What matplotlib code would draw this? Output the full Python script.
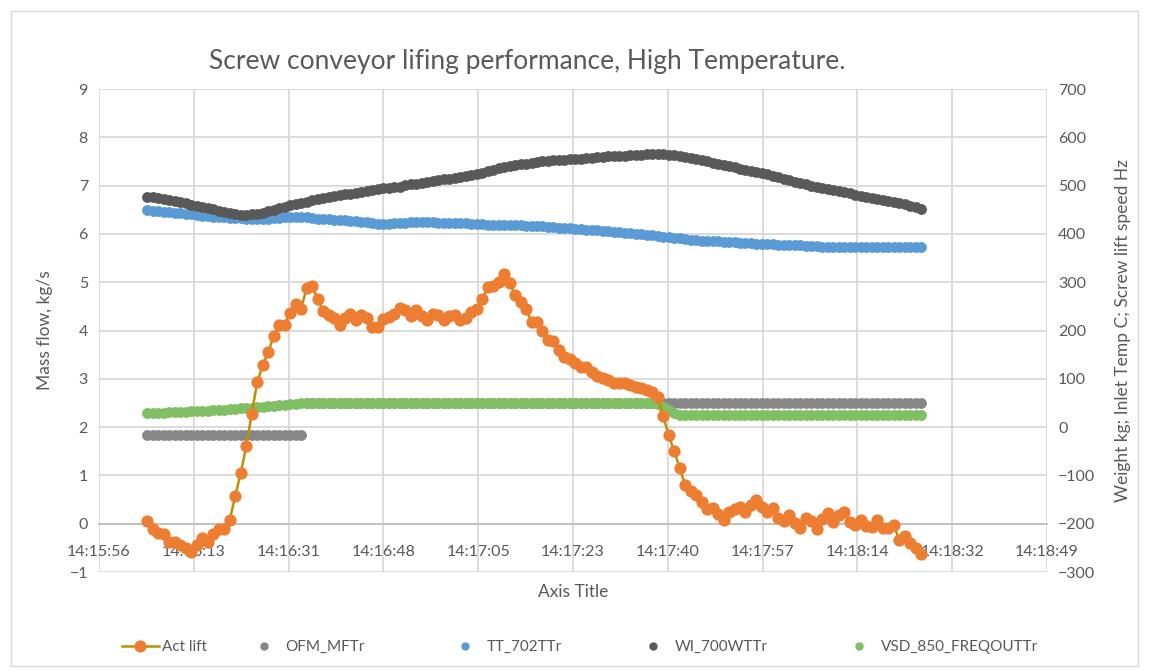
import numpy as np
import matplotlib
matplotlib.use("Agg")
import matplotlib.pyplot as plt
from matplotlib.lines import Line2D
from matplotlib.patches import Rectangle

plt.rcParams['font.family'] = ['Lato', 'DejaVu Sans']

# time axis: one sample per second starting 14:16:05 (seconds since midnight)
t_start = 14 * 3600 + 16 * 60 + 5
n_samples = 142

# Act lift, kg/s (left axis)
act_lift = [
    0.05, -0.12, -0.2, -0.22, -0.38, -0.38, -0.45, -0.5, -0.58, -0.45,
    -0.3, -0.38, -0.22, -0.12, -0.12, 0.08, 0.58, 1.05, 1.6, 2.28,
    2.93, 3.28, 3.55, 3.88, 4.12, 4.12, 4.37, 4.55, 4.45, 4.88,
    4.93, 4.65, 4.4, 4.33, 4.26, 4.12, 4.26, 4.35, 4.22, 4.33,
    4.26, 4.08, 4.08, 4.24, 4.28, 4.35, 4.47, 4.42, 4.3, 4.43,
    4.29, 4.22, 4.35, 4.33, 4.22, 4.3, 4.33, 4.22, 4.26, 4.39,
    4.45, 4.65, 4.9, 4.93, 5.0, 5.18, 4.98, 4.74, 4.6, 4.45,
    4.18, 4.18, 3.98, 3.81, 3.78, 3.6, 3.45, 3.42, 3.33, 3.25,
    3.24, 3.15, 3.06, 3.02, 2.97, 2.92, 2.92, 2.91, 2.88, 2.84,
    2.8, 2.77, 2.72, 2.62, 2.22, 1.84, 1.5, 1.16, 0.8, 0.68,
    0.6, 0.45, 0.3, 0.33, 0.2, 0.08, 0.25, 0.3, 0.35, 0.25,
    0.39, 0.5, 0.35, 0.25, 0.33, 0.12, 0.06, 0.19, 0.02, -0.08,
    0.12, 0.06, -0.1, 0.1, 0.23, 0.04, 0.18, 0.25, 0.04, -0.02,
    0.08, -0.04, -0.06, 0.08, -0.08, -0.08, -0.02, -0.33, -0.25, -0.39,
    -0.5, -0.62,
]

# OFM_MFTr, kg/s (left axis)
ofm = [1.84] * 29 + [2.5] * 113

# TT_702TTr, inlet temp C (right axis)
tt = [
    449, 448, 447, 446, 445, 444, 443, 442, 441, 439,
    438, 437, 436, 435, 434, 433, 432, 432, 431, 431,
    431, 430, 431, 432, 433, 434, 435, 436, 435, 434,
    433, 431, 430, 430, 429, 428, 428, 427, 426, 425,
    424, 423, 421, 420, 421, 422, 423, 423, 424, 424,
    424, 424, 424, 423, 423, 423, 422, 422, 422, 421,
    421, 420, 419, 419, 418, 418, 418, 418, 418, 417,
    417, 416, 416, 415, 414, 413, 413, 412, 411, 410,
    409, 408, 408, 407, 405, 404, 403, 402, 401, 400,
    399, 398, 397, 395, 394, 393, 392, 391, 389, 388,
    387, 386, 386, 385, 385, 384, 384, 383, 382, 382,
    381, 380, 380, 379, 379, 378, 378, 377, 376, 376,
    375, 374, 374, 373, 373, 373, 372, 372, 372, 372,
    372, 372, 372, 372, 372, 372, 372, 372, 372, 372,
    372, 372,
]

# WI_700WTTr, weight kg (right axis)
wi = [
    477, 476, 475, 473, 471, 468, 466, 463, 460, 457,
    455, 453, 451, 448, 446, 443, 442, 440, 439, 441,
    442, 444, 447, 450, 453, 456, 459, 462, 465, 467,
    470, 472, 475, 477, 478, 480, 482, 483, 485, 487,
    489, 491, 493, 494, 495, 497, 498, 501, 503, 504,
    506, 508, 509, 511, 513, 514, 516, 518, 520, 522,
    524, 527, 530, 533, 536, 539, 541, 543, 544, 545,
    547, 548, 550, 551, 552, 553, 554, 555, 555, 556,
    557, 558, 559, 560, 561, 561, 562, 562, 563, 564,
    564, 565, 565, 565, 565, 564, 563, 561, 559, 557,
    555, 552, 550, 547, 545, 543, 540, 538, 535, 532,
    530, 528, 526, 524, 520, 517, 514, 511, 508, 505,
    503, 500, 498, 495, 493, 490, 488, 486, 484, 481,
    479, 477, 475, 473, 471, 468, 466, 464, 461, 458,
    455, 451,
]

# VSD_850_FREQOUTTr, screw lift speed Hz (right axis)
vsd = (
    [29, 29, 30, 30, 31, 31, 32, 32, 33,
     33, 34, 34, 35, 36, 36, 37, 38, 39,
     40, 40, 41, 42, 43, 44, 45, 46, 47, 48, 49, 50]
    + [50] * 63
    + [47, 42, 35, 29]
    + [26] * 45
)

series_names = ['Act lift', 'OFM_MFTr', 'TT_702TTr', 'WI_700WTTr', 'VSD_850_FREQOUTTr']

t = t_start + np.arange(n_samples)

# Excel-like date axis: 0.5944 .. 0.5964 day, major unit 0.0002 day
x_min = 0.5944 * 86400
x_step = 0.0002 * 86400
x_ticks = x_min + x_step * np.arange(11)


def hms(v):
    s = int(round(v))
    return "%d:%02d:%02d" % (s // 3600, (s % 3600) // 60, s % 60)


text_col = '#595959'
grid_col = '#D9D9D9'
c_orange = '#ED7D31'
c_gold = '#BF9000'
c_ofm = '#878787'
c_blue = '#5B9BD5'
c_wi = '#595959'
c_green = '#80BF63'
ms = 7.8

fig = plt.figure(figsize=(11.49, 6.70), dpi=100)
ax = fig.add_axes([99 / 1149, 1 - 572 / 670, (1047 - 99) / 1149, (572 - 89) / 670])
ax2 = ax.twinx()
ax3 = ax.twinx()

# left axis: OFM
ax.plot(t, ofm, 'o', color=c_ofm, ms=ms, mec='none')
ax.set_xlim(x_min, x_ticks[-1])
ax.set_ylim(-1, 9)
ax.set_yticks(range(-1, 10))
ax.set_xticks(x_ticks)
ax.set_xticklabels([hms(v) for v in x_ticks])
ax.grid(True, color=grid_col, lw=1.3)
ax.set_axisbelow(True)
for s in ['top', 'left', 'right']:
    ax.spines[s].set_visible(False)
ax.spines['bottom'].set_position(('data', 0))
ax.spines['bottom'].set_color('#BFBFBF')
ax.spines['bottom'].set_linewidth(1.3)
ax.tick_params(axis='both', length=0, colors=text_col, labelsize=11.5)
ax.tick_params(axis='x', pad=15)
ax.tick_params(axis='y', pad=8)
ax.set_ylabel('Mass flow, kg/s', color=text_col, fontsize=12.5, labelpad=12)
ax.text(0.5, -0.025, 'Axis Title', transform=ax.transAxes, ha='center', va='top',
        color=text_col, fontsize=12.5)

# right axis: temp, weight, speed
ax2.plot(t, tt, 'o', color=c_blue, ms=ms, mec='none')
ax2.plot(t, wi, 'o', color=c_wi, ms=ms, mec='none')
ax2.plot(t, vsd, 'o', color=c_green, ms=ms, mec='none')
ax2.set_ylim(-300, 700)
ax2.set_yticks(range(-300, 701, 100))
ax2.tick_params(axis='y', length=0, colors=text_col, labelsize=11.5, pad=8)
for s in ax2.spines.values():
    s.set_visible(False)
ax2.set_ylabel('Weight kg; Inlet Temp C; Screw lift speed Hz', color=text_col,
               fontsize=12.5, labelpad=14)

# Act lift drawn on top
ax3.plot(t, act_lift, '-o', color=c_gold, lw=1.8, mfc=c_orange, mec=c_orange, ms=ms)
ax3.set_ylim(-1, 9)
ax3.set_yticks([])
for s in ax3.spines.values():
    s.set_visible(False)

fig.suptitle('Screw conveyor lifing performance, High Temperature.', x=527 / 1149,
             y=1 - 62 / 670, va='center', color=text_col, fontsize=19)

handles = [
    Line2D([], [], color=c_gold, lw=1.8, marker='o', mfc=c_orange, mec=c_orange, ms=ms),
    Line2D([], [], ls='none', marker='o', color=c_ofm, ms=5),
    Line2D([], [], ls='none', marker='o', color=c_blue, ms=5),
    Line2D([], [], ls='none', marker='o', color=c_wi, ms=5),
    Line2D([], [], ls='none', marker='o', color=c_green, ms=5),
]
# legend entries placed like the Excel legend (handle start, px)
legend_x = [122, 246, 447, 635, 841]
for h, name, lx in zip(handles, series_names, legend_x):
    fig.legend([h], [name], loc='center left', bbox_to_anchor=(lx / 1149, 1 - 647 / 670),
               frameon=False, fontsize=11, labelcolor=text_col, borderpad=0,
               borderaxespad=0, handlelength=2.4, handletextpad=0.2)

fig.add_artist(Rectangle((11 / 1149, 4 / 670), 1127 / 1149, 655 / 670,
                         transform=fig.transFigure, fill=False, ec=grid_col, lw=1))

fig.savefig('out.png', dpi=100)
